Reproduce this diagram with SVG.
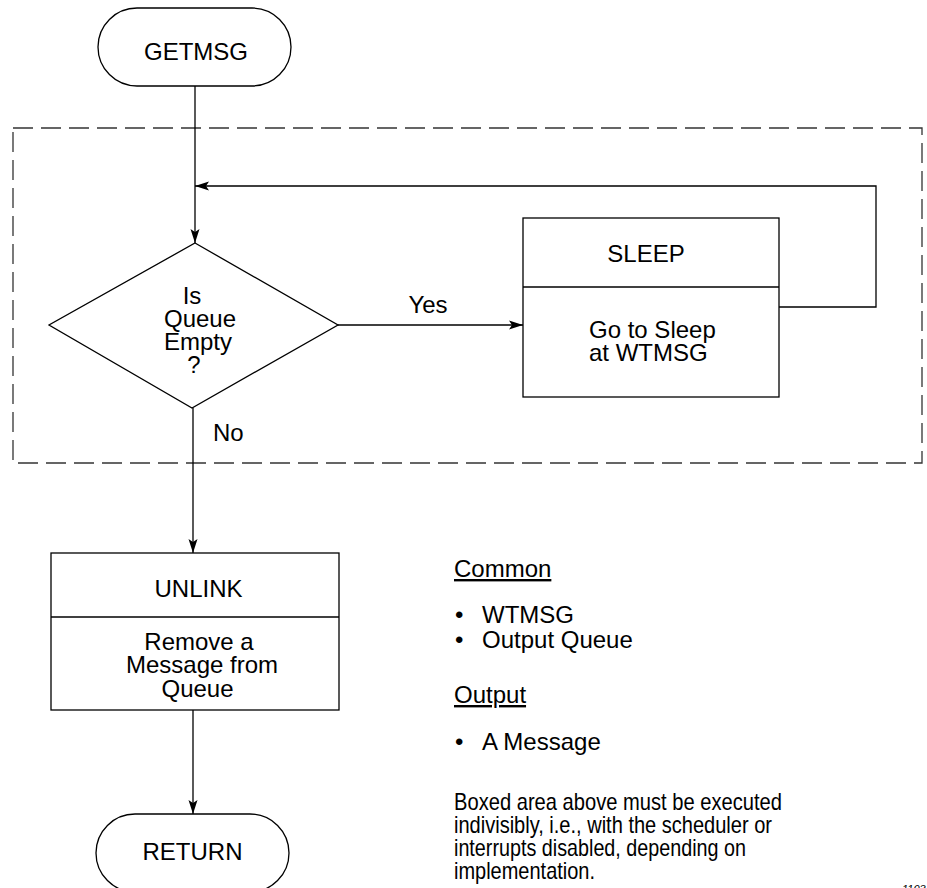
<svg xmlns="http://www.w3.org/2000/svg" width="927" height="888" viewBox="0 0 927 888">
<defs>
<marker id="arr" markerWidth="14" markerHeight="10" refX="14" refY="5" orient="auto" markerUnits="userSpaceOnUse">
<path d="M0,0.5 L14,5 L0,9.5 L3,5 Z" fill="#000"/>
</marker>
<style>
text{font-family:"Liberation Sans",Arial,sans-serif;font-size:24px;fill:#000}
.c{text-anchor:middle}
.s{fill:#fff;stroke:#000;stroke-width:1.3}
.l{fill:none;stroke:#000;stroke-width:1.3}
.d{fill:none;stroke:#333;stroke-width:1.3;stroke-dasharray:20 8}
.u{text-decoration:underline}
</style>
</defs>
<rect id="boxed-area" class="d" x="13" y="128" width="909" height="335"/>
<g id="connectors">
<line class="l" x1="195" y1="85" x2="195" y2="243" marker-end="url(#arr)"/>
<polyline class="l" points="779,307 876,307 876,186 195,186" marker-end="url(#arr)"/>
<line class="l" x1="338" y1="325" x2="523" y2="325" marker-end="url(#arr)"/>
<line class="l" x1="193" y1="408" x2="193" y2="553" marker-end="url(#arr)"/>
<line class="l" x1="193" y1="710" x2="193" y2="814" marker-end="url(#arr)"/>
<text x="428" y="313" class="c">Yes</text>
<text x="213" y="441">No</text>
</g>
<g id="getmsg">
<rect class="s" x="98" y="8" width="193" height="78" rx="39" ry="39"/>
<text x="196" y="60" class="c">GETMSG</text>
</g>
<g id="decision">
<polygon class="s" points="195,243 338,325 192,408 49,325"/>
<text x="192" y="304" class="c">Is</text>
<text x="200" y="327" class="c">Queue</text>
<text x="198" y="350" class="c">Empty</text>
<text x="194" y="373" class="c">?</text>
</g>
<g id="sleep">
<rect class="s" x="523" y="218" width="256" height="179"/>
<line class="l" x1="523" y1="287" x2="779" y2="287"/>
<text x="646" y="262" class="c">SLEEP</text>
<text x="589" y="338">Go to Sleep</text>
<text x="589" y="361">at WTMSG</text>
</g>
<g id="unlink">
<rect class="s" x="51" y="553" width="288" height="157"/>
<line class="l" x1="51" y1="617" x2="339" y2="617"/>
<text x="198.5" y="597" class="c">UNLINK</text>
<text x="199" y="650" class="c">Remove a</text>
<text x="202" y="673" class="c">Message from</text>
<text x="197.5" y="697" class="c">Queue</text>
</g>
<g id="return">
<rect class="s" x="96" y="814" width="193" height="78" rx="39" ry="39"/>
<text x="192.5" y="860" class="c">RETURN</text>
</g>
<g id="notes">
<text x="454" y="577" class="u">Common</text>
<text x="455" y="623">•</text>
<text x="482" y="623">WTMSG</text>
<text x="455" y="648">•</text>
<text x="482" y="648">Output Queue</text>
<text x="454" y="703" class="u">Output</text>
<text x="455" y="750">•</text>
<text x="482" y="750">A Message</text>
<text x="454" y="810" textLength="328" lengthAdjust="spacingAndGlyphs">Boxed area above must be executed</text>
<text x="454" y="833" textLength="318" lengthAdjust="spacingAndGlyphs">indivisibly, i.e., with the scheduler or</text>
<text x="454" y="856" textLength="292" lengthAdjust="spacingAndGlyphs">interrupts disabled, depending on</text>
<text x="454" y="879" textLength="141" lengthAdjust="spacingAndGlyphs">implementation.</text>
<text x="902" y="893" style="font-size:11px;font-style:italic">1103</text>
</g>
</svg>
